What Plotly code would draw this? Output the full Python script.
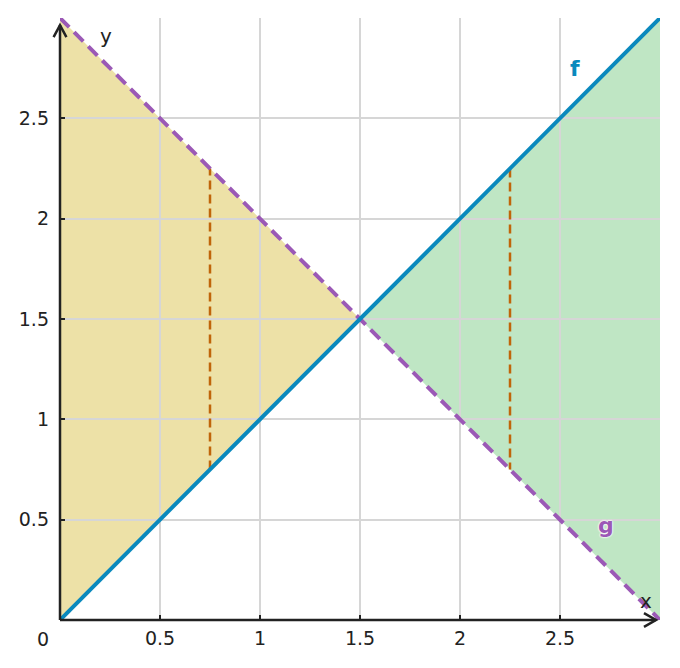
import plotly.graph_objects as go

# sample points of the two lines
x_vals = [0, 0.75, 1.5, 2.25, 3]
f_vals = [0, 0.75, 1.5, 2.25, 3]
g_vals = [3, 2.25, 1.5, 0.75, 0]
tick_vals = [0.5, 1, 1.5, 2, 2.5]
tick_text = ['0.5', '1', '1.5', '2', '2.5']

F_COLOR = '#0a89bd'
G_COLOR = '#9b59b6'
V_COLOR = '#c0650a'
AX_COLOR = '#222222'
FONT = 'DejaVu Sans'


def path_from(xs, ys):
    pts = ['%s%s,%s' % ('M' if i == 0 else 'L', x, y) for i, (x, y) in enumerate(zip(xs, ys))]
    return ' '.join(pts) + ' Z'


fig = go.Figure()

# dashed verticals between f and g
for i in (1, 3):
    fig.add_trace(go.Scatter(
        x=[x_vals[i], x_vals[i]], y=[f_vals[i], g_vals[i]], mode='lines',
        line=dict(color=V_COLOR, width=2.5, dash='9px,5px'), hoverinfo='skip'))

fig.add_trace(go.Scatter(x=x_vals, y=g_vals, mode='lines',
                         line=dict(color=G_COLOR, width=4, dash='13px,7px'), hoverinfo='skip'))
fig.add_trace(go.Scatter(x=x_vals, y=f_vals, mode='lines',
                         line=dict(color=F_COLOR, width=4), hoverinfo='skip'))

# filled regions, below the grid
left = path_from(x_vals[:3] + x_vals[2::-1], g_vals[:3] + f_vals[2::-1])
right = path_from(x_vals[2:] + x_vals[:1:-1], f_vals[2:] + g_vals[:1:-1])
shapes = [
    dict(type='path', path=left, fillcolor='#ede1a7', line=dict(width=0), layer='below'),
    dict(type='path', path=right, fillcolor='#bfe6c4', line=dict(width=0), layer='below'),
]

# axes with open arrow heads (paper coords so they are not clipped at the plot edge)
ax_line = dict(color=AX_COLOR, width=2.5)
paper = dict(xref='paper', yref='paper', line=ax_line, layer='above')
shapes += [
    dict(type='line', x0=0, y0=0, x1=0.9933, y1=0, **paper),
    dict(type='path', path='M0.9733,0.0113 L0.9933,0 L0.9733,-0.0113', **paper),
    dict(type='line', x0=0, y0=0, x1=0, y1=0.9883, **paper),
    dict(type='path', path='M-0.0107,0.9683 L0,0.9883 L0.0107,0.9683', **paper),
]

annotations = [
    dict(x=0, y=0, text='0', showarrow=False, xshift=-17, yshift=-19,
         font=dict(size=19, color=AX_COLOR)),
    dict(x=2.93, y=0.095, text='x', showarrow=False, font=dict(size=20, color=AX_COLOR)),
    dict(x=0.23, y=2.91, text='y', showarrow=False, font=dict(size=20, color=AX_COLOR)),
    dict(x=2.575, y=2.75, text='<b>f</b>', showarrow=False, font=dict(size=22, color=F_COLOR)),
    dict(x=2.73, y=0.47, text='<b>g</b>', showarrow=False,
         font=dict(size=22, color=G_COLOR, shadow='0 0 2px white, 0 0 2px white, 0 0 2px white')),
]

axis_style = dict(
    tickvals=tick_vals, ticktext=tick_text, showgrid=True, gridcolor='#d6d6d6', gridwidth=1.5,
    zeroline=False, showline=False, ticks='inside', ticklen=5, tickwidth=1.5, tickcolor=AX_COLOR,
    tickfont=dict(size=19, color=AX_COLOR, family=FONT), fixedrange=True,
)

# the page puts the figure 8px in from the window's corner
fig.update_layout(
    width=680, height=668,
    margin=dict(l=52, r=28, t=10, b=56),
    plot_bgcolor='white', paper_bgcolor='white',
    showlegend=False,
    font=dict(family=FONT, color=AX_COLOR),
    shapes=shapes, annotations=annotations,
    xaxis=dict(range=[0, 3], ticklabelstandoff=5, **axis_style),
    yaxis=dict(range=[0, 3], ticklabelstandoff=10, **axis_style),
)

fig.write_html('out.html')
